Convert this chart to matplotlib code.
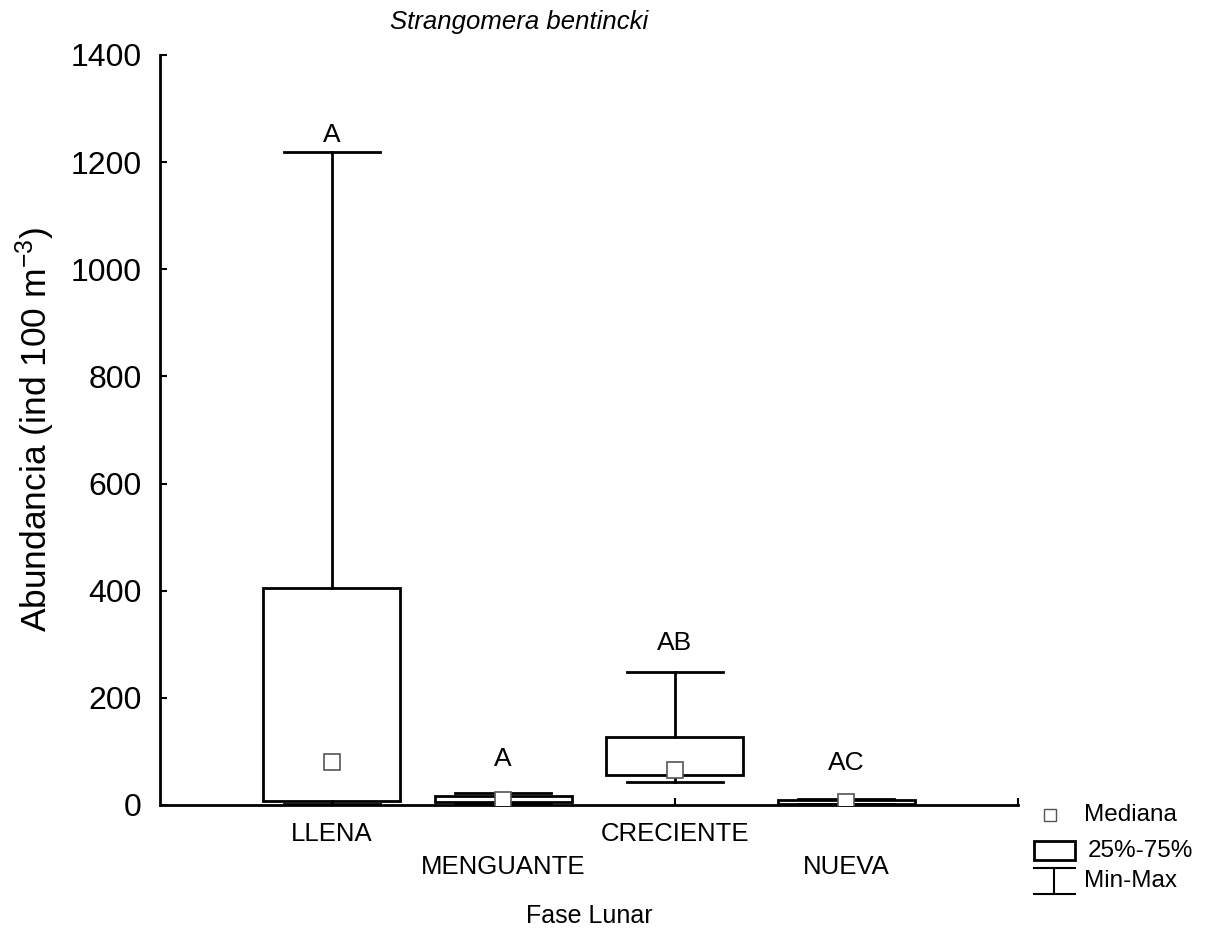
import matplotlib
matplotlib.use("Agg")
import matplotlib.pyplot as plt
from matplotlib.patches import Rectangle

plt.rcParams['font.family'] = ['Liberation Sans', 'DejaVu Sans']
plt.rcParams['mathtext.fontset'] = 'custom'
plt.rcParams['mathtext.rm'] = 'Liberation Sans'
plt.rcParams['mathtext.it'] = 'Liberation Sans:italic'

# data (ind 100 m^-3)
fases = ['LLENA', 'MENGUANTE', 'CRECIENTE', 'NUEVA']
minimos = [2, 3, 43, 1]
q25 = [8, 6, 56, 2]
medianas = [80, 10, 65, 6]
q75 = [405, 17, 127, 9]
maximos = [1219, 22, 248, 11]
letras = ['A', 'A', 'AB', 'AC']
letras_y = [1251, 86, 302, 78]

fig = plt.figure(figsize=(12.16, 9.34), dpi=100)
ax = fig.add_axes([160 / 1216, 1 - 805 / 934, 858 / 1216, 750 / 934])

pos = list(range(1, len(fases) + 1))
stats = []
for i in range(len(fases)):
    stats.append(dict(med=medianas[i], q1=q25[i], q3=q75[i],
                      whislo=minimos[i], whishi=maximos[i], fliers=[]))

ax.bxp(stats, positions=pos, widths=0.8, capwidths=0.56, patch_artist=True,
       showfliers=False,
       boxprops=dict(facecolor='white', edgecolor='black', linewidth=2),
       whiskerprops=dict(color='black', linewidth=2),
       capprops=dict(color='black', linewidth=2),
       medianprops=dict(visible=False))

# median markers
ax.plot(pos, medianas, 's', markersize=12, markerfacecolor='white',
        markeredgecolor='#555555', markeredgewidth=1.2, zorder=5)

for p, l, y in zip(pos, letras, letras_y):
    ax.text(p, y, l, ha='center', va='center', fontsize=19)

ax.set_xlim(0, 5)
ax.set_ylim(0, 1400)
ax.set_yticks(range(0, 1401, 200))
ax.set_xticks(pos)
ax.set_xticklabels(fases, fontsize=18.5)
ax.set_xticks([5], minor=True)
ax.tick_params(axis='y', direction='in', length=5, width=1.5, labelsize=23, pad=13)
ax.tick_params(axis='x', which='both', direction='in', length=5, width=1.5, pad=12)
for t in ax.xaxis.get_major_ticks()[1::2]:
    t.set_pad(36)

for s in ['top', 'right']:
    ax.spines[s].set_visible(False)
for s in ['left', 'bottom']:
    ax.spines[s].set_linewidth(2)

ax.set_xlabel('Fase Lunar', fontsize=18, labelpad=18)
ax.set_ylabel(r'Abundancia (ind 100 m$^{-3}$)', fontsize=25.5, labelpad=10)

fig.text(519 / 1216, 1 - 22 / 934, 'Strangomera bentincki', ha='center',
         va='center', fontsize=18.5, style='italic')

# legend drawn by hand
lg = fig.add_axes([1020 / 1216, 1 - 905 / 934, 190 / 1216, 110 / 934])
lg.set_xlim(1020, 1210)
lg.set_ylim(905, 795)
lg.axis('off')
lg.plot([1050], [815], 's', markersize=8, markerfacecolor='white',
        markeredgecolor='#555555', markeredgewidth=1)
lg.add_patch(Rectangle((1034, 841), 41, 19, facecolor='white',
                       edgecolor='black', linewidth=2))
lg.plot([1034, 1075], [868, 868], color='black', lw=1.5)
lg.plot([1054, 1054], [868, 894], color='black', lw=1.5)
lg.plot([1034, 1075], [894, 894], color='black', lw=1.5)
lg.text(1084, 815, 'Mediana', va='center', fontsize=17.5)
lg.text(1088, 851, '25%-75%', va='center', fontsize=17.5)
lg.text(1084, 881, 'Min-Max', va='center', fontsize=17.5)

fig.savefig('out.png', dpi=100)
